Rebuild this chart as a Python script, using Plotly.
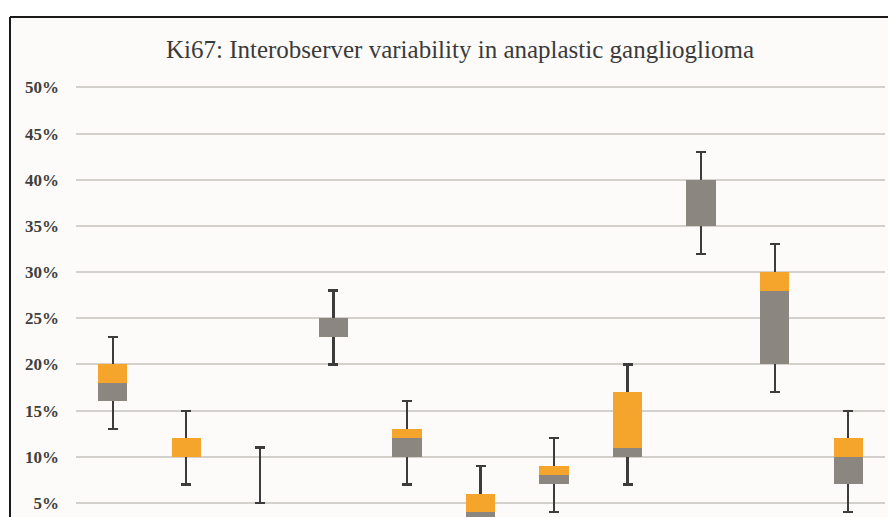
import plotly.graph_objects as go

# ---- data (Ki67 %) ----
categories = ["1", "2", "3", "4", "5", "6", "7", "8", "9", "10", "11"]
whisker_low = [13, 7, 5, 20, 7, 1, 4, 7, 32, 17, 4]
q1 = [16, 10, 8, 23, 10, 3, 7, 10, 35, 20, 7]
median = [18, 10, 8, 25, 12, 4, 8, 11, 40, 28, 10]
q3 = [20, 12, 8, 25, 13, 6, 9, 17, 40, 30, 12]
whisker_high = [23, 15, 11, 28, 16, 9, 12, 20, 43, 33, 15]
y_ticks = [5, 10, 15, 20, 25, 30, 35, 40, 45, 50]
y_tick_labels = ["5%", "10%", "15%", "20%", "25%", "30%", "35%", "40%", "45%", "50%"]
title_text = "Ki67: Interobserver variability in anaplastic ganglioglioma"

GRAY = "#8B8780"
ORANGE = "#F5A52B"
WHISKER = "#3C3C3C"

lower_seg = [m - a for m, a in zip(median, q1)]
upper_seg = [c - m for c, m in zip(q3, median)]
err_plus = [h - a for h, a in zip(whisker_high, q1)]
err_minus = [a - l for a, l in zip(q1, whisker_low)]

fig = go.Figure()
fig.add_trace(go.Bar(
    x=categories, y=q1, marker=dict(color="rgba(0,0,0,0)", line=dict(width=0)),
    error_y=dict(type="data", symmetric=False, array=err_plus, arrayminus=err_minus,
                 color=WHISKER, thickness=2.2, width=5),
    showlegend=False, hoverinfo="skip"))
fig.add_trace(go.Bar(
    x=categories, y=lower_seg, marker=dict(color=GRAY, line=dict(width=0)),
    showlegend=False))
fig.add_trace(go.Bar(
    x=categories, y=upper_seg, marker=dict(color=ORANGE, line=dict(width=0)),
    showlegend=False))

# page body has an 8px margin, so the figure is placed at (8, 8)
OFF = 8
W, H = 896 - OFF, 517 - OFF
L, R, T, B = 76 - OFF, 896 - 885, 80 - OFF, 0
pw, ph = W - L - R, H - T - B


def px_x(px):
    return (px - OFF - L) / pw


def px_y(py):
    return (H - B - (py - OFF)) / ph


shapes = [
    dict(type="rect", xref="paper", yref="paper", x0=px_x(10), x1=px_x(900),
         y0=px_y(530), y1=px_y(17), fillcolor="#FCFBF9", line=dict(width=0), layer="below"),
    dict(type="line", xref="paper", yref="paper", x0=px_x(10), x1=px_x(900),
         y0=px_y(17), y1=px_y(17), line=dict(color="#1A1A1A", width=2)),
    dict(type="line", xref="paper", yref="paper", x0=px_x(10), x1=px_x(10),
         y0=px_y(17), y1=px_y(530), line=dict(color="#1A1A1A", width=2)),
]

fig.update_layout(
    width=W, height=H,
    margin=dict(l=L, r=R, t=T, b=B, pad=0),
    paper_bgcolor="white",
    plot_bgcolor="rgba(0,0,0,0)",
    barmode="stack",
    bargap=0.6,
    shapes=shapes,
    title=dict(text=title_text, x=(460 - OFF) / W, xanchor="center", xref="container",
               y=1 - (49 - OFF) / H, yanchor="middle",
               font=dict(family="Liberation Serif", size=25, color="#3A3A3A")),
    xaxis=dict(showticklabels=False, showgrid=False, zeroline=False, showline=False, ticks=""),
    yaxis=dict(range=[3.48, 50.8], tickmode="array", tickvals=y_ticks, ticktext=y_tick_labels,
               showgrid=True, gridcolor="#D4D1CC", gridwidth=1.8, zeroline=False,
               showline=False, ticks="", ticklabelstandoff=16,
               tickfont=dict(family="Liberation Serif", size=17, color="#3F3F3F", weight="bold")),
)

fig.write_html("out.html")
